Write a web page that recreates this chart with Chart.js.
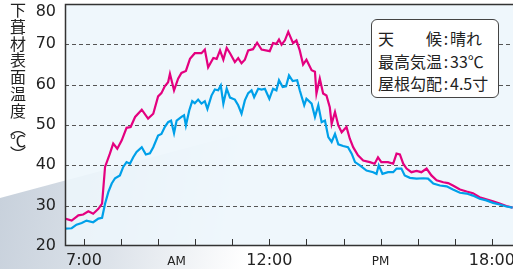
<!DOCTYPE html>
<html>
<head>
<meta charset="utf-8">
<script src="https://cdn.jsdelivr.net/npm/chart.js@4.4.1/dist/chart.umd.min.js"></script>
<style>
  html, body { margin: 0; padding: 0; background: #fff; }
  #wrap { position: relative; width: 513px; height: 269px; overflow: hidden; }
  #swoosh {
    position: absolute; left: 0; top: 0; width: 513px; height: 269px;
    background: linear-gradient(100deg, #c2ccd8 0%, #dde3ea 28%, rgba(255,255,255,0) 52%);
    clip-path: polygon(0 198px, 513px 60px, 513px 269px, 0 269px);
  }
  canvas { position: absolute; left: 0; top: 0; }
  #ytitle {
    position: absolute; left: 8px; top: 2px;
    writing-mode: vertical-rl;
    font: 16px "Noto Sans CJK JP", sans-serif;
    letter-spacing: 0.8px; line-height: 20px; color: #222;
  }
  #ytitle .unit { letter-spacing: -3px; }
  #box {
    position: absolute; left: 371px; top: 19px; width: 126px; height: 70px;
    padding-top: 7px;
    border: 1px solid #444; border-radius: 6px; background: #fff;
    font: 16px "Noto Sans CJK JP", sans-serif; color: #222; line-height: 22.5px;
  }
  #box .row { display: flex; padding-left: 6px; white-space: nowrap; }
  #box .k { display: flex; justify-content: space-between; width: 64px; }
  #box .c { width: 8px; text-align: center; }
</style>
</head>
<body>
<div id="wrap">
  <div id="swoosh"></div>
  <canvas id="tempChart" width="513" height="269"></canvas>
  <div id="ytitle">下葺材表面温度<span class="unit">（℃）</span></div>
  <div id="box"></div>
</div>
<script>
// 時刻(時) と 温度(℃)
const magentaTimes = [6.49, 6.67, 6.85, 6.98, 7.12, 7.25, 7.39, 7.49, 7.57, 7.70, 7.79, 7.90, 8.02, 8.15, 8.26, 8.38, 8.56, 8.73, 8.87, 9.00,
  9.09, 9.18, 9.27, 9.32, 9.43, 9.54, 9.63, 9.75, 9.86, 9.99, 10.17, 10.26, 10.35, 10.49, 10.58, 10.67, 10.76, 10.85, 10.94, 11.07,
  11.16, 11.25, 11.34, 11.43, 11.56, 11.67, 11.79, 12.01, 12.10, 12.19, 12.26, 12.33, 12.42, 12.51, 12.64, 12.73, 12.82, 12.91, 13.00, 13.14,
  13.23, 13.27, 13.36, 13.45, 13.54, 13.63, 13.68, 13.77, 13.86, 13.95, 14.08, 14.17, 14.26, 14.39, 14.53, 14.71, 14.84, 14.93, 15.02, 15.20,
  15.34, 15.43, 15.52, 15.61, 15.70, 15.83, 15.97, 16.10, 16.24, 16.37, 16.51, 16.69, 16.82, 16.95, 17.14, 17.32, 17.49, 17.67, 17.85, 18.03,
  18.21, 18.39, 18.56];
const magentaTemps = [26.8, 26.3, 27.6, 27.8, 28.6, 28.0, 29.2, 30.5, 39.6, 42.9, 45.4, 44.1, 46.2, 49.3, 49.5, 52.0, 53.8, 51.6, 52.8, 57.1,
  57.9, 59.6, 60.6, 62.7, 58.6, 61.5, 62.9, 63.4, 66.4, 67.8, 67.8, 68.7, 64.3, 66.6, 66.4, 68.5, 66.2, 69.1, 67.8, 65.6,
  66.6, 65.3, 66.2, 68.5, 68.8, 70.4, 68.7, 68.3, 70.3, 70.1, 71.2, 69.9, 71.0, 73.1, 70.3, 71.0, 68.5, 65.0, 66.2, 63.6,
  63.2, 57.8, 61.5, 57.8, 57.3, 54.4, 50.3, 53.2, 49.9, 48.2, 49.5, 46.6, 44.5, 42.5, 41.2, 40.8, 40.4, 42.0, 40.8, 40.8,
  40.4, 42.9, 42.7, 40.4, 39.2, 38.3, 38.6, 38.3, 39.2, 37.5, 36.3, 35.8, 35.6, 35.0, 34.0, 33.5, 33.1, 32.1, 31.6, 31.1,
  30.5, 29.9, 29.5];

const cyanTimes = [6.49, 6.67, 6.80, 6.94, 7.07, 7.25, 7.39, 7.49, 7.57, 7.66, 7.75, 7.84, 7.97, 8.06, 8.15, 8.24, 8.33, 8.42, 8.56, 8.67,
  8.78, 8.87, 9.00, 9.09, 9.18, 9.27, 9.35, 9.43, 9.50, 9.63, 9.70, 9.75, 9.84, 9.92, 9.99, 10.08, 10.17, 10.26, 10.33, 10.44,
  10.53, 10.62, 10.69, 10.76, 10.85, 10.94, 11.07, 11.16, 11.25, 11.34, 11.43, 11.52, 11.59, 11.70, 11.79, 11.88, 12.00, 12.10, 12.19, 12.26,
  12.36, 12.45, 12.53, 12.63, 12.75, 12.82, 12.94, 13.00, 13.14, 13.23, 13.32, 13.41, 13.50, 13.59, 13.68, 13.77, 13.86, 13.99, 14.12, 14.22,
  14.31, 14.44, 14.62, 14.80, 14.89, 14.95, 15.05, 15.20, 15.34, 15.43, 15.56, 15.65, 15.79, 15.97, 16.15, 16.28, 16.42, 16.60, 16.78, 16.95,
  17.14, 17.32, 17.49, 17.67, 17.85, 18.03, 18.21, 18.39, 18.56];
const cyanTemps = [24.3, 24.4, 25.3, 25.7, 26.3, 25.9, 26.8, 27.0, 30.5, 33.4, 35.5, 36.8, 37.5, 39.6, 40.8, 40.4, 42.0, 43.3, 44.5, 42.7,
  43.0, 44.5, 47.4, 47.8, 49.5, 50.7, 51.1, 48.0, 51.1, 52.0, 52.4, 49.9, 53.6, 55.9, 55.4, 56.3, 55.3, 55.9, 54.0, 57.3,
  58.8, 58.6, 59.8, 55.3, 59.0, 56.8, 56.3, 54.9, 52.8, 56.1, 57.9, 58.6, 56.9, 59.0, 58.8, 59.0, 56.5, 59.0, 58.6, 61.1,
  59.4, 59.6, 62.3, 60.9, 61.1, 58.6, 54.9, 56.5, 55.3, 52.0, 54.9, 50.7, 51.1, 47.0, 45.8, 47.8, 45.2, 44.8, 44.5, 42.9,
  40.8, 40.0, 38.7, 38.3, 37.9, 40.0, 37.9, 38.3, 38.3, 39.2, 39.2, 37.5, 36.9, 36.7, 36.8, 36.7, 35.5, 35.0, 34.8, 34.0,
  33.2, 33.0, 32.5, 31.7, 31.3, 30.7, 30.3, 29.8, 29.5];

// 目盛り
const hourTicks = [7, 8, 9, 10, 11, 12, 13, 14, 15, 16, 17, 18];
const xLabelHours = [7, 9.5, 12, 15, 18];
const xLabelTexts = ['7:00', 'AM', '12:00', 'PM', '18:00'];
const yTickValues = [20, 30, 40, 50, 60, 70, 80];
const gridTemps = [30, 40, 50, 60, 70];

// 条件ボックス
const noteKeys = ['天候', '最高気温', '屋根勾配'];
const noteValues = ['晴れ', '33℃', '4.5寸'];

const box = document.getElementById('box');
noteKeys.forEach((k, i) => {
  const row = document.createElement('div');
  row.className = 'row';
  const chars = k.split('').map(ch => '<span>' + ch + '</span>').join('');
  row.innerHTML = '<span class="k">' + chars + '</span><span class="c">:</span><span>' + noteValues[i] + '</span>';
  box.appendChild(row);
});

function toPoints(times, temps) {
  return times.map((t, i) => ({ x: t, y: temps[i] }));
}

// 背景・罫線・枠・ラベルを描くプラグイン
const framePlugin = {
  id: 'framePlugin',
  beforeDatasetsDraw(chart) {
    const { ctx, chartArea: a, scales: { y } } = chart;
    ctx.save();
    ctx.fillStyle = 'rgba(237,246,252,0.88)';
    ctx.fillRect(a.left, a.top, a.right - a.left, a.bottom - a.top);
    ctx.strokeStyle = '#555';
    ctx.lineWidth = 1;
    ctx.setLineDash([4, 3]);
    gridTemps.forEach(v => {
      const py = Math.round(y.getPixelForValue(v)) + 0.5;
      ctx.beginPath();
      ctx.moveTo(a.left, py);
      ctx.lineTo(a.right, py);
      ctx.stroke();
    });
    ctx.restore();
  },
  afterDatasetsDraw(chart) {
    const { ctx, chartArea: a, scales: { x, y } } = chart;
    ctx.save();
    // 枠
    ctx.strokeStyle = '#333';
    ctx.lineWidth = 1.5;
    ctx.beginPath();
    ctx.moveTo(a.right, a.top + 0.5);
    ctx.lineTo(a.left + 0.5, a.top + 0.5);
    ctx.lineTo(a.left + 0.5, a.bottom - 0.5);
    ctx.lineTo(a.right, a.bottom - 0.5);
    ctx.stroke();
    // 内向きの目盛り
    ctx.lineWidth = 1;
    hourTicks.forEach(h => {
      const px = Math.round(x.getPixelForValue(h)) + 0.5;
      ctx.beginPath();
      ctx.moveTo(px, a.bottom);
      ctx.lineTo(px, a.bottom - 7);
      ctx.stroke();
    });
    // Y ラベル
    ctx.fillStyle = '#222';
    ctx.font = '16px "DejaVu Sans"';
    ctx.textAlign = 'right';
    ctx.textBaseline = 'middle';
    yTickValues.forEach(v => {
      const py = Math.max(y.getPixelForValue(v), 12);
      ctx.fillText(String(v), 56, py);
    });
    // X ラベル
    ctx.textAlign = 'center';
    ctx.textBaseline = 'alphabetic';
    xLabelHours.forEach((h, i) => {
      const txt = xLabelTexts[i];
      ctx.font = /[AP]M/.test(txt) ? '12px "DejaVu Sans"' : '16px "DejaVu Sans"';
      ctx.fillText(txt, x.getPixelForValue(h), 265);
    });
    ctx.restore();
  }
};

new Chart(document.getElementById('tempChart'), {
  type: 'line',
  data: {
    datasets: [
      {
        label: '下葺材B',
        data: toPoints(cyanTimes, cyanTemps),
        borderColor: '#00a0e9',
        borderWidth: 2.2,
        pointRadius: 0,
        tension: 0,
        fill: false
      },
      {
        label: '下葺材A',
        data: toPoints(magentaTimes, magentaTemps),
        borderColor: '#e4007f',
        borderWidth: 2.2,
        pointRadius: 0,
        tension: 0,
        fill: false
      }
    ]
  },
  options: {
    responsive: false,
    animation: false,
    devicePixelRatio: 1,
    layout: { padding: { left: 65, top: 4, right: 0, bottom: 23 } },
    plugins: { legend: { display: false }, tooltip: { enabled: false } },
    scales: {
      x: { type: 'linear', display: false, min: 6.49, max: 18.57 },
      y: { display: false, min: 20, max: 80 }
    }
  },
  plugins: [framePlugin]
});
</script>
</body>
</html>
